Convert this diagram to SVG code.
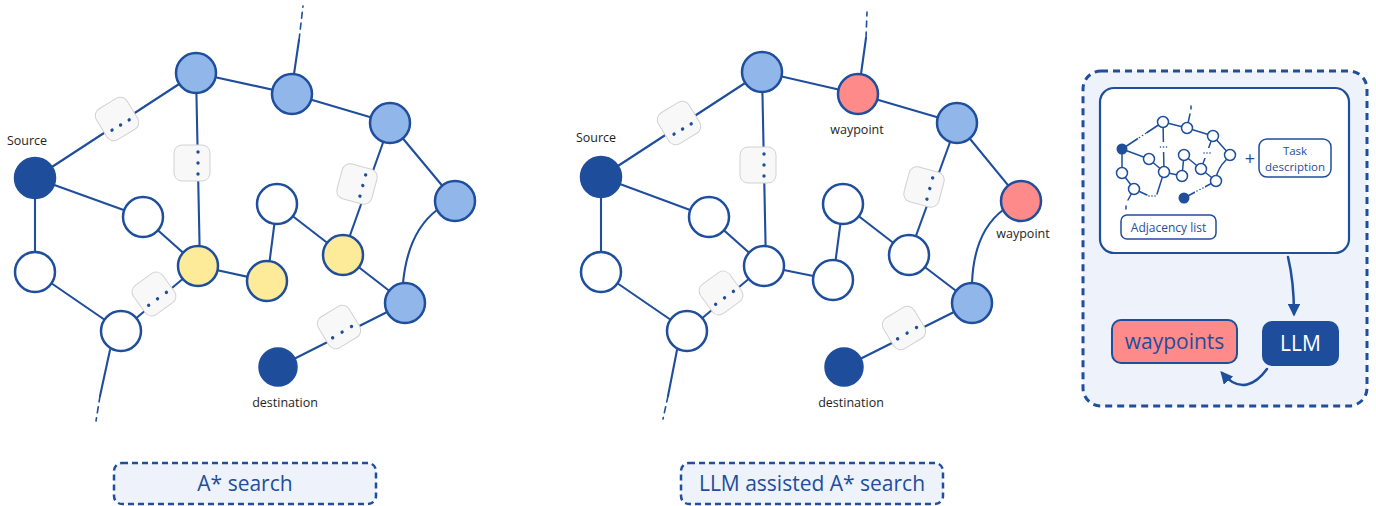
<svg xmlns="http://www.w3.org/2000/svg" width="1376" height="506" viewBox="0 0 1376 506">
<defs>
<style>
.e line,.e path{stroke:#1f4e9c;stroke-width:2.1;fill:none;stroke-linecap:round}
.e .dash{stroke-dasharray:6 5;stroke-width:1.6}
.n{stroke:#1f4e9c;stroke-width:2.5}
.w{fill:#fff}.lb{fill:#91b6ea}.y{fill:#fdeb99}.r{fill:#ff8a8a}.d{fill:#1e4e9b}
.ell rect{fill:#f8f8f8;stroke:#d2d2d2;stroke-width:1}
.ell circle{fill:#1f4e9c}
.lbl{font-family:"Open Sans","Liberation Sans",sans-serif;font-size:12.5px;fill:#1e1e1e;text-anchor:middle}
.cap{font-family:"Open Sans","Liberation Sans",sans-serif;font-size:21px;fill:#1f4e9c;text-anchor:middle}
.capbox{fill:#edf2fb;stroke:#1f4e9c;stroke-width:2.5;stroke-dasharray:6 4}
.m line,.m path{stroke:#1f4e9c;stroke-width:1.5;fill:none;stroke-linecap:round}
.mn{stroke:#1f4e9c;stroke-width:1.5;fill:#fff}
.md{fill:#1f4e9c}
.mdot{fill:#1f4e9c}
</style>
<marker id="ah" viewBox="0 0 10 10" refX="8" refY="5" markerWidth="5" markerHeight="5" orient="auto" markerUnits="strokeWidth"><path d="M0,0 L10,5 L0,10 z" fill="#1f4e9c"/></marker>
</defs>
<rect width="1376" height="506" fill="#fff"/>

<!-- ===== Left: A* search ===== -->
<g id="graph-astar">
<g id="astar-connectors" class="e">
<line x1="35" y1="178" x2="196" y2="73"/>
<line x1="196" y1="73" x2="292" y2="94"/>
<line x1="292" y1="94" x2="390" y2="123"/>
<line x1="390" y1="123" x2="455" y2="201"/>
<line x1="196" y1="73" x2="200" y2="266"/>
<line x1="35" y1="178" x2="143" y2="217"/>
<line x1="35" y1="178" x2="35" y2="272"/>
<line x1="143" y1="217" x2="198" y2="266"/>
<line x1="198" y1="266" x2="267" y2="281"/>
<line x1="277" y1="204" x2="267" y2="281"/>
<line x1="277" y1="204" x2="343" y2="255"/>
<line x1="390" y1="123" x2="343" y2="255"/>
<path d="M437,210 Q408,232 403,283"/>
<line x1="343" y1="255" x2="405" y2="303"/>
<line x1="35" y1="272" x2="121" y2="331"/>
<line x1="121" y1="331" x2="198" y2="266"/>
<line x1="405" y1="303" x2="278" y2="367"/>
<line x1="294" y1="74" x2="299" y2="40"/>
<line class="dash" x1="299" y1="40" x2="303" y2="6"/>
<line x1="110" y1="350" x2="100" y2="396"/>
<line class="dash" x1="100" y1="396" x2="96" y2="421"/>
</g>
<g id="astar-ellipsis-1" class="ell" transform="translate(117,119) rotate(-31)"><rect x="-18" y="-18" width="36" height="36" rx="8"/><circle cx="-10" cy="7" r="1.7"/><circle cx="0" cy="7" r="1.7"/><circle cx="10" cy="7" r="1.7"/></g>
<g id="astar-ellipsis-2" class="ell" transform="translate(192,163) rotate(90)"><rect x="-18" y="-18" width="36" height="36" rx="8"/><circle cx="-11" cy="-6" r="1.7"/><circle cx="0" cy="-6" r="1.7"/><circle cx="11" cy="-6" r="1.7"/></g>
<g id="astar-ellipsis-3" class="ell" transform="translate(357,184) rotate(105)"><rect x="-18" y="-18" width="36" height="36" rx="8"/><circle cx="-11" cy="-6" r="1.7"/><circle cx="0" cy="-6" r="1.7"/><circle cx="11" cy="-6" r="1.7"/></g>
<g id="astar-ellipsis-4" class="ell" transform="translate(154,294) rotate(-36)"><rect x="-18" y="-18" width="36" height="36" rx="8"/><circle cx="-11" cy="6" r="1.7"/><circle cx="0" cy="6" r="1.7"/><circle cx="11" cy="6" r="1.7"/></g>
<g id="astar-ellipsis-5" class="ell" transform="translate(339,327) rotate(-31)"><rect x="-18" y="-18" width="36" height="36" rx="8"/><circle cx="-11" cy="6" r="1.7"/><circle cx="0" cy="6" r="1.7"/><circle cx="11" cy="6" r="1.7"/></g>

<g id="astar-source"><circle class="n d" cx="35" cy="178" r="20"/><text class="lbl" x="27" y="145">Source</text></g>
<g id="astar-a"><circle class="n lb" cx="196" cy="73" r="20"/></g>
<g id="astar-b"><circle class="n lb" cx="292" cy="94" r="20"/></g>
<g id="astar-c"><circle class="n lb" cx="390" cy="123" r="20"/></g>
<g id="astar-d"><circle class="n lb" cx="455" cy="201" r="20"/></g>
<g id="astar-e"><circle class="n w" cx="143" cy="217" r="20"/></g>
<g id="astar-f"><circle class="n w" cx="277" cy="204" r="20"/></g>
<g id="astar-g"><circle class="n w" cx="35" cy="272" r="20"/></g>
<g id="astar-h"><circle class="n y" cx="198" cy="266" r="20"/></g>
<g id="astar-i"><circle class="n y" cx="267" cy="281" r="20"/></g>
<g id="astar-j"><circle class="n y" cx="343" cy="255" r="20"/></g>
<g id="astar-k"><circle class="n lb" cx="405" cy="303" r="20"/></g>
<g id="astar-l"><circle class="n w" cx="121" cy="331" r="20"/></g>
<g id="astar-destination"><circle class="n d" cx="278" cy="367" r="18.5" stroke-width="1"/><text class="lbl" x="285" y="407">destination</text></g>
</g>

<!-- ===== Middle: LLM assisted A* search ===== -->
<g id="graph-llm" transform="translate(566,0)">
<g id="llm-connectors" class="e">
<line x1="35" y1="177" x2="196" y2="72"/>
<line x1="196" y1="72" x2="292" y2="94"/>
<line x1="292" y1="94" x2="391" y2="123"/>
<line x1="391" y1="123" x2="455" y2="201"/>
<line x1="196" y1="72" x2="200" y2="266"/>
<line x1="35" y1="177" x2="143" y2="217"/>
<line x1="35" y1="177" x2="35" y2="272"/>
<line x1="143" y1="217" x2="198" y2="266"/>
<line x1="198" y1="266" x2="267" y2="280"/>
<line x1="277" y1="204" x2="267" y2="280"/>
<line x1="277" y1="204" x2="343" y2="255"/>
<line x1="391" y1="123" x2="343" y2="255"/>
<path d="M437,210 Q408,232 406,283"/>
<line x1="343" y1="255" x2="406" y2="303"/>
<line x1="35" y1="272" x2="121" y2="331"/>
<line x1="121" y1="331" x2="198" y2="266"/>
<line x1="406" y1="303" x2="278" y2="367"/>
<line x1="295" y1="74" x2="300" y2="38"/>
<line class="dash" x1="300" y1="38" x2="301" y2="12"/>
<line x1="111" y1="350" x2="102" y2="396"/>
<line class="dash" x1="102" y1="396" x2="97" y2="419"/>
</g>
<g id="llm-ellipsis-1" class="ell" transform="translate(113,123) rotate(-31)"><rect x="-18" y="-18" width="36" height="36" rx="8"/><circle cx="-10" cy="7" r="1.7"/><circle cx="0" cy="7" r="1.7"/><circle cx="10" cy="7" r="1.7"/></g>
<g id="llm-ellipsis-2" class="ell" transform="translate(192,165) rotate(90)"><rect x="-18" y="-18" width="36" height="36" rx="8"/><circle cx="-11" cy="-6" r="1.7"/><circle cx="0" cy="-6" r="1.7"/><circle cx="11" cy="-6" r="1.7"/></g>
<g id="llm-ellipsis-3" class="ell" transform="translate(358,187) rotate(105)"><rect x="-18" y="-18" width="36" height="36" rx="8"/><circle cx="-11" cy="-6" r="1.7"/><circle cx="0" cy="-6" r="1.7"/><circle cx="11" cy="-6" r="1.7"/></g>
<g id="llm-ellipsis-4" class="ell" transform="translate(155,293) rotate(-36)"><rect x="-18" y="-18" width="36" height="36" rx="8"/><circle cx="-11" cy="6" r="1.7"/><circle cx="0" cy="6" r="1.7"/><circle cx="11" cy="6" r="1.7"/></g>
<g id="llm-ellipsis-5" class="ell" transform="translate(338,328) rotate(-31)"><rect x="-18" y="-18" width="36" height="36" rx="8"/><circle cx="-11" cy="6" r="1.7"/><circle cx="0" cy="6" r="1.7"/><circle cx="11" cy="6" r="1.7"/></g>

<g id="llm-source"><circle class="n d" cx="35" cy="177" r="20" stroke-width="1"/><text class="lbl" x="30" y="142">Source</text></g>
<g id="llm-a"><circle class="n lb" cx="196" cy="72" r="20"/></g>
<g id="llm-waypoint-1"><circle class="n r" cx="292" cy="94" r="20"/><text class="lbl" x="291" y="134">waypoint</text></g>
<g id="llm-c"><circle class="n lb" cx="391" cy="123" r="20"/></g>
<g id="llm-waypoint-2"><circle class="n r" cx="455" cy="201" r="20"/><text class="lbl" x="457" y="238">waypoint</text></g>
<g id="llm-e"><circle class="n w" cx="143" cy="217" r="20"/></g>
<g id="llm-f"><circle class="n w" cx="277" cy="204" r="20"/></g>
<g id="llm-g"><circle class="n w" cx="35" cy="272" r="20"/></g>
<g id="llm-h"><circle class="n w" cx="198" cy="266" r="20"/></g>
<g id="llm-i"><circle class="n w" cx="267" cy="280" r="20"/></g>
<g id="llm-j"><circle class="n w" cx="343" cy="255" r="20"/></g>
<g id="llm-k"><circle class="n lb" cx="406" cy="303" r="20"/></g>
<g id="llm-l"><circle class="n w" cx="121" cy="331" r="20"/></g>
<g id="llm-destination"><circle class="n d" cx="278" cy="367" r="18.5" stroke-width="1"/><text class="lbl" x="285" y="407">destination</text></g>
</g>

<!-- ===== Right panel ===== -->
<g id="panel">
<rect x="1083" y="71" width="284" height="335" rx="18" fill="#edf2fb" stroke="#1f4e9c" stroke-width="3" stroke-dasharray="7 5"/>
<g id="input-box">
<rect x="1100" y="88" width="249" height="165" rx="14" fill="#fff" stroke="#1f4e9c" stroke-width="2.2"/>
<g id="mini-graph" class="m">
<line x1="1122" y1="149" x2="1163" y2="122"/>
<line x1="1163" y1="122" x2="1187" y2="128"/>
<line x1="1187" y1="128" x2="1190" y2="114"/>
<line x1="1191" y1="106" x2="1191" y2="109"/>
<line x1="1187" y1="128" x2="1213" y2="136"/>
<line x1="1213" y1="136" x2="1230" y2="155"/>
<line x1="1163" y1="122" x2="1164" y2="172"/>
<line x1="1122" y1="149" x2="1149" y2="159"/>
<line x1="1122" y1="149" x2="1122" y2="173"/>
<line x1="1149" y1="159" x2="1164" y2="172"/>
<line x1="1164" y1="172" x2="1182" y2="176"/>
<line x1="1184" y1="155" x2="1182" y2="176"/>
<line x1="1184" y1="155" x2="1201" y2="169"/>
<line x1="1213" y1="136" x2="1201" y2="169"/>
<path d="M1226,160 Q1218,168 1216,178"/>
<line x1="1201" y1="169" x2="1216" y2="181"/>
<line x1="1122" y1="173" x2="1134" y2="189"/>
<line x1="1134" y1="189" x2="1147" y2="195"/>
<line x1="1157" y1="194" x2="1164" y2="172"/>
<line x1="1134" y1="189" x2="1128" y2="200"/>
<line x1="1126" y1="206" x2="1126" y2="209"/>
<line x1="1216" y1="181" x2="1184" y2="198"/>
<g fill="#fff" stroke="none">
<rect x="1137" y="131" width="10" height="9" transform="rotate(-33 1142 135.5)"/>
<rect x="1158" y="142" width="11" height="10"/>
<rect x="1202" y="148" width="10" height="10"/>
<rect x="1195" y="185" width="10" height="9"/>
</g>
<g class="mdot">
<circle cx="1139.5" cy="137.5" r="0.8"/><circle cx="1142.5" cy="135.5" r="0.8"/><circle cx="1145.5" cy="133.5" r="0.8"/>
<circle cx="1160.5" cy="147" r="0.8"/><circle cx="1163.5" cy="147" r="0.8"/><circle cx="1166.5" cy="147" r="0.8"/>
<circle cx="1204" cy="153" r="0.8"/><circle cx="1207" cy="153" r="0.8"/><circle cx="1210" cy="153" r="0.8"/>
<circle cx="1149" cy="196" r="0.8"/><circle cx="1152" cy="196" r="0.8"/><circle cx="1155" cy="196" r="0.8"/>
<circle cx="1197" cy="191" r="0.8"/><circle cx="1200" cy="189.5" r="0.8"/><circle cx="1203" cy="188" r="0.8"/>
</g>
<circle class="md" cx="1122" cy="149" r="5.5"/>
<circle class="mn" cx="1163" cy="122" r="5.5"/>
<circle class="mn" cx="1187" cy="128" r="5.5"/>
<circle class="mn" cx="1213" cy="136" r="5.5"/>
<circle class="mn" cx="1230" cy="155" r="5.5"/>
<circle class="mn" cx="1149" cy="159" r="5.5"/>
<circle class="mn" cx="1184" cy="155" r="5.5"/>
<circle class="mn" cx="1122" cy="173" r="5.5"/>
<circle class="mn" cx="1164" cy="172" r="5.5"/>
<circle class="mn" cx="1182" cy="176" r="5.5"/>
<circle class="mn" cx="1201" cy="169" r="5.5"/>
<circle class="mn" cx="1216" cy="181" r="5.5"/>
<circle class="mn" cx="1134" cy="189" r="5.5"/>
<circle class="md" cx="1184" cy="198" r="5.5"/>
</g>
<g id="adjacency-list">
<rect x="1121" y="215" width="95" height="24" rx="6" fill="#fff" stroke="#1f4e9c" stroke-width="1.5"/>
<text x="1168.5" y="232" font-family="'Open Sans','Liberation Sans',sans-serif" font-size="12" fill="#1f4e9c" text-anchor="middle">Adjacency list</text>
</g>
<text x="1250" y="165" font-family="'Open Sans','Liberation Sans',sans-serif" font-size="18" fill="#1f4e9c" text-anchor="middle">+</text>
<g id="task-description">
<rect x="1259" y="139" width="72" height="38" rx="8" fill="#fff" stroke="#1f4e9c" stroke-width="1.5"/>
<text font-family="'Open Sans','Liberation Sans',sans-serif" font-size="11.5" fill="#1f4e9c" text-anchor="middle"><tspan x="1295" y="155">Task</tspan><tspan x="1295" y="171">description</tspan></text>
</g>
</g>
<g id="panel-connectors" fill="none" stroke="#1f4e9c" stroke-width="2.5" stroke-linecap="round">
<path d="M1288,257 Q1294,282 1294,314" marker-end="url(#ah)"/>
<path d="M1267,369 C1256,384 1240,394 1222,373" marker-end="url(#ah)"/>
</g>
<g id="llm">
<rect x="1262" y="321" width="77" height="45" rx="10" fill="#1e4e9b"/>
<text x="1300.5" y="351" font-family="'Open Sans','Liberation Sans',sans-serif" font-size="21" fill="#fff" text-anchor="middle">LLM</text>
</g>
<g id="waypoints">
<rect x="1112" y="320" width="125" height="43" rx="9" fill="#ff8a8a" stroke="#1f4e9c" stroke-width="2"/>
<text x="1174.5" y="349" font-family="'Open Sans','Liberation Sans',sans-serif" font-size="21" fill="#1f4e9c" text-anchor="middle">waypoints</text>
</g>
</g>

<!-- ===== Captions ===== -->
<g id="caption-astar">
<rect class="capbox" x="114" y="463" width="262" height="41" rx="8"/>
<text class="cap" x="245" y="491">A* search</text>
</g>
<g id="caption-llm">
<rect class="capbox" x="681" y="463" width="262" height="41" rx="8"/>
<text class="cap" x="812" y="491">LLM assisted A* search</text>
</g>
</svg>
